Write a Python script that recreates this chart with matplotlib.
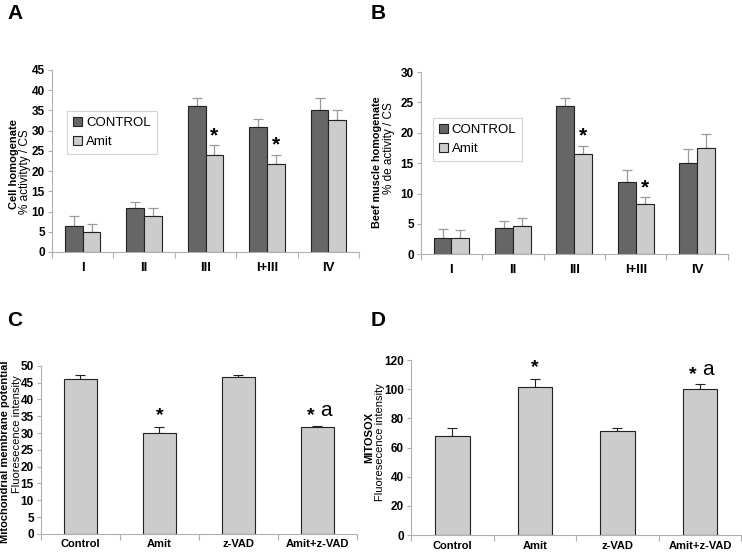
import matplotlib.pyplot as plt
import numpy as np
from matplotlib.patches import Patch

plt.rcParams['font.family'] = ['Liberation Sans', 'DejaVu Sans']

# panels A and B: respiratory chain complexes
complexes = ["I", "II", "III", "I+III", "IV"]
cell_control = [6.5, 10.9, 36.2, 30.9, 35.2]
cell_control_err = [2.3, 1.4, 1.8, 1.9, 2.8]
cell_amit = [5.0, 8.8, 24.0, 21.7, 32.7]
cell_amit_err = [2.0, 2.1, 2.4, 2.3, 2.3]
cell_sig = [False, False, True, True, False]

beef_control = [2.6, 4.3, 24.4, 11.9, 15.0]
beef_control_err = [1.5, 1.2, 1.3, 2.0, 2.3]
beef_amit = [2.6, 4.6, 16.5, 8.3, 17.5]
beef_amit_err = [1.4, 1.3, 1.4, 1.1, 2.3]
beef_sig = [False, False, True, True, False]

# panels C and D
treatments = ["Control", "Amit", "z-VAD", "Amit+z-VAD"]
mmp = [46.1, 30.0, 46.6, 31.9]
mmp_err = [1.1, 1.7, 0.6, 0.3]
mitosox = [67.7, 101.7, 71.1, 100.3]
mitosox_err = [5.7, 5.7, 2.3, 3.2]
marks = ["", "*", "", "*a"]

dark = "#666666"
light = "#cccccc"
edge = "#222222"
errc = "#9a9a9a"
spine_c = "#b0b0b0"

fig = plt.figure(figsize=(7.42, 5.55), dpi=100)


def style_axes(ax, n, labels, labelsize, pad):
    for s in ["top", "right"]:
        ax.spines[s].set_visible(False)
    for s in ["left", "bottom"]:
        ax.spines[s].set_color(spine_c)
        ax.spines[s].set_linewidth(0.8)
    ax.set_xlim(0, n)
    ax.set_xticks(np.arange(n + 1))
    ax.set_xticklabels([])
    ax.set_xticks(np.arange(n) + 0.5, minor=True)
    ax.set_xticklabels(labels, minor=True, fontweight="bold")
    ax.tick_params(axis="x", which="major", length=4, color=spine_c)
    ax.tick_params(axis="x", which="minor", length=0, pad=pad, labelsize=labelsize)
    ax.tick_params(axis="y", length=3, color=spine_c, labelsize=8.5, pad=2)


def grouped(ax, ctrl, ctrl_err, amit, amit_err, sig, ymax, step):
    x = np.arange(len(complexes)) + 0.5
    w = 0.29
    ax.bar(x - w / 2, ctrl, w, color=dark, edgecolor=edge, linewidth=0.8, zorder=2)
    ax.bar(x + w / 2, amit, w, color=light, edgecolor=edge, linewidth=0.8, zorder=2)
    ax.errorbar(x - w / 2, ctrl, yerr=[np.zeros(len(ctrl)), ctrl_err], fmt="none",
                ecolor=errc, elinewidth=0.9, capsize=3.5, capthick=0.9, zorder=1)
    ax.errorbar(x + w / 2, amit, yerr=[np.zeros(len(amit)), amit_err], fmt="none",
                ecolor=errc, elinewidth=0.9, capsize=3.5, capthick=0.9, zorder=1)
    for i, s in enumerate(sig):
        if s:
            ax.annotate("*", (x[i] + w / 2, amit[i] + amit_err[i]), xytext=(0, 0),
                        textcoords="offset points", ha="center", va="bottom",
                        fontsize=15, fontweight="bold")
    ax.set_ylim(0, ymax)
    ax.set_yticks(np.arange(0, ymax + 0.1, step))
    style_axes(ax, len(complexes), complexes, 9.5, 7)
    for lab in ax.get_yticklabels():
        lab.set_fontweight("bold")


def single(ax, vals, errs, ymax, step):
    x = np.arange(len(treatments)) + 0.5
    ax.bar(x, vals, 0.42, color=light, edgecolor=edge, linewidth=0.8, zorder=2)
    ax.errorbar(x, vals, yerr=[np.zeros(len(vals)), errs], fmt="none",
                ecolor=edge, elinewidth=0.8, capsize=3.5, capthick=0.8, zorder=1)
    ax.set_ylim(0, ymax)
    ax.set_yticks(np.arange(0, ymax + 0.1, step))
    style_axes(ax, len(treatments), treatments, 8, 4)
    for lab in ax.get_yticklabels():
        lab.set_fontweight("bold")
    for i, m in enumerate(marks):
        if m == "*":
            ax.annotate("*", (x[i], vals[i] + errs[i]), xytext=(0, 2),
                        textcoords="offset points", ha="center", va="bottom",
                        fontsize=14, fontweight="bold")
        elif m == "*a":
            ax.annotate("*", (x[i], vals[i] + errs[i]), xytext=(-5, 1),
                        textcoords="offset points", ha="center", va="bottom",
                        fontsize=14, fontweight="bold")
            ax.annotate("a", (x[i], vals[i] + errs[i]), xytext=(6, 4),
                        textcoords="offset points", ha="center", va="bottom",
                        fontsize=15)


def legend(ax, loc):
    handles = [Patch(facecolor=dark, edgecolor=edge, linewidth=0.8, label="CONTROL"),
               Patch(facecolor=light, edgecolor=edge, linewidth=0.8, label="Amit")]
    lg = ax.legend(handles=handles, loc="upper left", bbox_to_anchor=loc,
                   fontsize=9.5, fancybox=False, handlelength=0.7,
                   handleheight=0.7, handletextpad=0.3, borderpad=0.45,
                   labelspacing=0.5, borderaxespad=0)
    lg.get_frame().set_edgecolor("#c8c8c8")
    lg.get_frame().set_linewidth(0.8)


def ylab(x_px, y_px, text, size, bold):
    fig.text(x_px / 742, 1 - y_px / 555, text, rotation=90, ha="center",
             va="center", fontsize=size, fontweight="bold" if bold else "normal")


axA = fig.add_axes([0.070, 0.546, 0.414, 0.328])
grouped(axA, cell_control, cell_control_err, cell_amit, cell_amit_err, cell_sig, 45, 5)
legend(axA, (0.049, 0.775))
ylab(14, 164, "Cell homogenate", 8, True)
ylab(25, 172, "% activityty / CS", 8.5, False)

axB = fig.add_axes([0.567, 0.542, 0.414, 0.328])
grouped(axB, beef_control, beef_control_err, beef_amit, beef_amit_err, beef_sig, 30, 5)
legend(axB, (0.039, 0.747))
ylab(377, 162, "Beef muscle homogenate", 7.8, True)
ylab(389, 148, "% de activity / CS", 8.5, False)

axC = fig.add_axes([0.055, 0.038, 0.426, 0.303])
single(axC, mmp, mmp_err, 50, 5)
ylab(5, 452, "Mitochondrial membrane potential", 8, True)
ylab(17, 434, "Fluoresecence intensity", 8, False)

axD = fig.add_axes([0.554, 0.036, 0.445, 0.315])
single(axD, mitosox, mitosox_err, 120, 20)
ylab(369, 437, "MITOSOX", 8, True)
ylab(380, 442, "Fluoresecence intensity", 8, False)

for lab, x, y in [("A", 7, 4), ("B", 371, 4), ("C", 7, 311), ("D", 371, 311)]:
    fig.text(x / 742, 1 - y / 555, lab, fontsize=15, fontweight="bold", va="top")

fig.savefig("out.png", dpi=100)
